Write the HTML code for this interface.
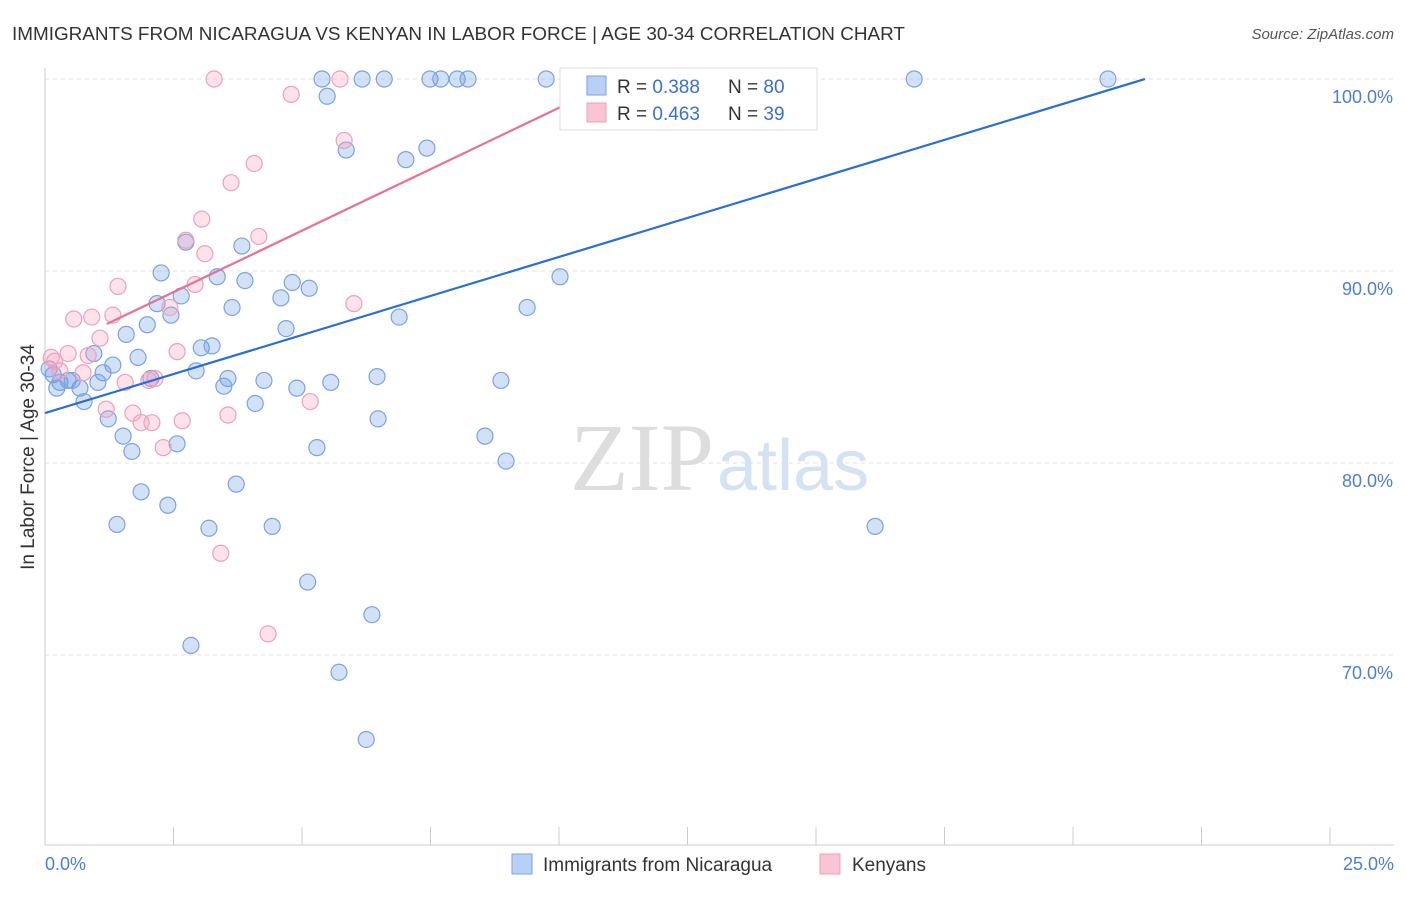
<!DOCTYPE html>
<html><head><meta charset="utf-8"><style>
body{margin:0;background:#fff;font-family:"Liberation Sans",sans-serif;}
svg text{font-family:"Liberation Sans",sans-serif;}
</style></head><body>
<svg id="chart" width="1406" height="892" xmlns="http://www.w3.org/2000/svg">
<text x="12" y="40" font-size="18.9" fill="#333">IMMIGRANTS FROM NICARAGUA VS KENYAN IN LABOR FORCE | AGE 30-34 CORRELATION CHART</text>
<text x="1394" y="39" font-size="15" fill="#555" font-style="italic" text-anchor="end">Source: ZipAtlas.com</text>
<g id="grid"></g>
<text x="714" y="490" font-size="96" fill="#ddd" text-anchor="end" style="font-family:'Liberation Serif',serif">ZIP</text>
<text x="717" y="490" font-size="72" fill="#d4e2f4">atlas</text>
<g id="axes"></g>
<g id="points"></g>
<g id="lines"></g>
<text transform="translate(34,457) rotate(-90)" font-size="19" fill="#333" text-anchor="middle">In Labor Force | Age 30-34</text>
<text x="45" y="870" font-size="18" fill="#4a7fd6">0.0%</text>
<text x="1394" y="870" font-size="18" fill="#4a7fd6" text-anchor="end">25.0%</text>
<g>
<rect x="560" y="68" width="257" height="62" fill="#fff" stroke="#ddd"/>
<rect x="587" y="76" width="19" height="19" fill="#b8d0f5" stroke="#7aa3e0"/>
<rect x="587" y="103" width="19" height="19" fill="#f9c5d5" stroke="#f0a0b8"/>
<text x="617" y="93" font-size="19" fill="#333">R = <tspan fill="#3a6fd8">0.388</tspan></text>
<text x="728" y="93" font-size="19" fill="#333">N = <tspan fill="#3a6fd8">80</tspan></text>
<text x="617" y="120" font-size="19" fill="#333">R = <tspan fill="#3a6fd8">0.463</tspan></text>
<text x="728" y="120" font-size="19" fill="#333">N = <tspan fill="#3a6fd8">39</tspan></text>
</g>
<g>
<rect x="512" y="854" width="20" height="20" fill="#b8d0f5" stroke="#7aa3e0"/>
<text x="543" y="871" font-size="19" fill="#333">Immigrants from Nicaragua</text>
<rect x="820" y="854" width="20" height="20" fill="#f9c5d5" stroke="#f0a0b8"/>
<text x="852" y="871" font-size="19" fill="#333">Kenyans</text>
</g>
</svg>
<script>
const yTicks=[100,90,80,70];
const yTickLabels=["100.0%","90.0%","80.0%","70.0%"];
const xTicks=[0,2.5,5,7.5,10,12.5,15,17.5,20,22.5,25];
const blueX=[5.39,6.17,6.60,7.49,7.70,8.02,8.23,9.75,10.74,16.91,20.68,5.49,5.86,7.02,7.43,2.74,3.83,2.26,3.35,3.89,4.81,5.14,4.59,2.65,2.18,3.64,1.99,2.45,6.89,9.38,10.02,1.58,4.69,3.04,3.25,0.95,1.81,1.32,1.13,2.94,2.06,3.56,3.48,4.26,4.90,5.56,6.46,8.87,0.16,0.29,0.45,0.23,0.68,1.03,0.76,4.09,1.23,1.52,6.48,8.56,2.57,1.69,5.29,8.97,3.72,1.87,2.39,1.40,3.19,4.42,16.15,5.11,6.36,2.84,5.72,6.25,0.08,0.53];
const blueY=[100,100,100,100,100,100,100,100,99.8,100,100,99.1,96.3,95.8,96.4,91.5,91.3,89.9,89.7,89.5,89.4,89.1,88.6,88.7,88.3,88.1,87.2,87.7,87.6,88.1,89.7,86.7,87.0,86.0,86.1,85.7,85.5,85.1,84.7,84.8,84.4,84.4,84.0,84.3,83.9,84.2,84.5,84.3,84.6,84.2,84.3,83.9,83.9,84.2,83.2,83.1,82.3,81.4,82.3,81.4,81.0,80.6,80.8,80.1,78.9,78.5,77.8,76.8,76.6,76.7,76.7,73.8,72.1,70.5,69.1,65.6,84.9,84.3];
const pinkX=[3.29,5.74,10.37,4.79,5.82,4.07,3.62,3.05,4.16,2.74,3.11,1.42,2.92,6.01,2.43,0.56,0.91,1.32,1.07,2.57,0.45,0.84,0.12,0.19,0.29,0.74,2.14,1.56,2.02,5.16,1.19,1.71,3.56,1.87,2.08,2.67,2.30,3.42,4.34];
const pinkY=[100,100,100,99.2,96.8,95.6,94.6,92.7,91.8,91.6,90.9,89.2,89.3,88.3,88.1,87.5,87.6,87.7,86.5,85.8,85.7,85.6,85.5,85.3,84.8,84.7,84.4,84.2,84.3,83.2,82.8,82.6,82.5,82.1,82.1,82.2,80.8,75.3,71.1];
const blueTrend=[[0,82.6],[21.4,100]];
const pinkTrend=[[0,85.7],[11.17,100]];
const NS="http://www.w3.org/2000/svg";
const sx=v=>45+v*51.4, sy=v=>79+(100-v)*19.2;
function mk(tag,attrs,parent){const e=document.createElementNS(NS,tag);for(const k in attrs)e.setAttribute(k,attrs[k]);parent.appendChild(e);return e;}
const grid=document.getElementById('grid'),axes=document.getElementById('axes'),pts=document.getElementById('points'),lines=document.getElementById('lines');
yTicks.forEach((t,i)=>{
 const l=mk('line',{x1:45,x2:1394,y1:sy(t),y2:sy(t),stroke:'#e2e2e2','stroke-dasharray':'4,4'},grid);
 
 
 const tx=mk('text',{x:1393,y:sy(t)+24,'font-size':18,fill:'#4a7fd6','text-anchor':'end'},grid);
 tx.textContent=yTickLabels[i];
 
 
});
const ya=mk('line',{x1:45,x2:45,y1:68,y2:845,stroke:'#ccc'},axes);


const xa=mk('line',{x1:45,x2:1394,y1:845,y2:845,stroke:'#ccc'},axes);


xTicks.forEach(t=>{
 const l=mk('line',{x1:sx(t),x2:sx(t),y1:827,y2:845,stroke:'#ccc'},axes);
 
 
});
blueX.forEach((x,i)=>{
 const c=mk('circle',{cx:sx(x),cy:sy(blueY[i]),r:8,fill:'rgba(110,155,230,0.3)',stroke:'#7aa3e0','stroke-width':1.2},pts);
 
 
});
pinkX.forEach((x,i)=>{
 const c=mk('circle',{cx:sx(x),cy:sy(pinkY[i]),r:8,fill:'rgba(245,160,190,0.3)',stroke:'#f0a0b8','stroke-width':1.2},pts);
 
 
});
const bl=mk('line',{x1:sx(blueTrend[0][0]),y1:sy(blueTrend[0][1]),x2:sx(blueTrend[1][0]),y2:sy(blueTrend[1][1]),stroke:'#2a6fd6','stroke-width':2.2},lines);


const pl=mk('line',{x1:sx(1.2),y1:sy(pinkTrend[0][1]+(pinkTrend[1][1]-pinkTrend[0][1])*1.2/pinkTrend[1][0]),x2:sx(pinkTrend[1][0]),y2:sy(pinkTrend[1][1]),stroke:'#e8709a','stroke-width':2.2},lines);


</script>
</body></html>
